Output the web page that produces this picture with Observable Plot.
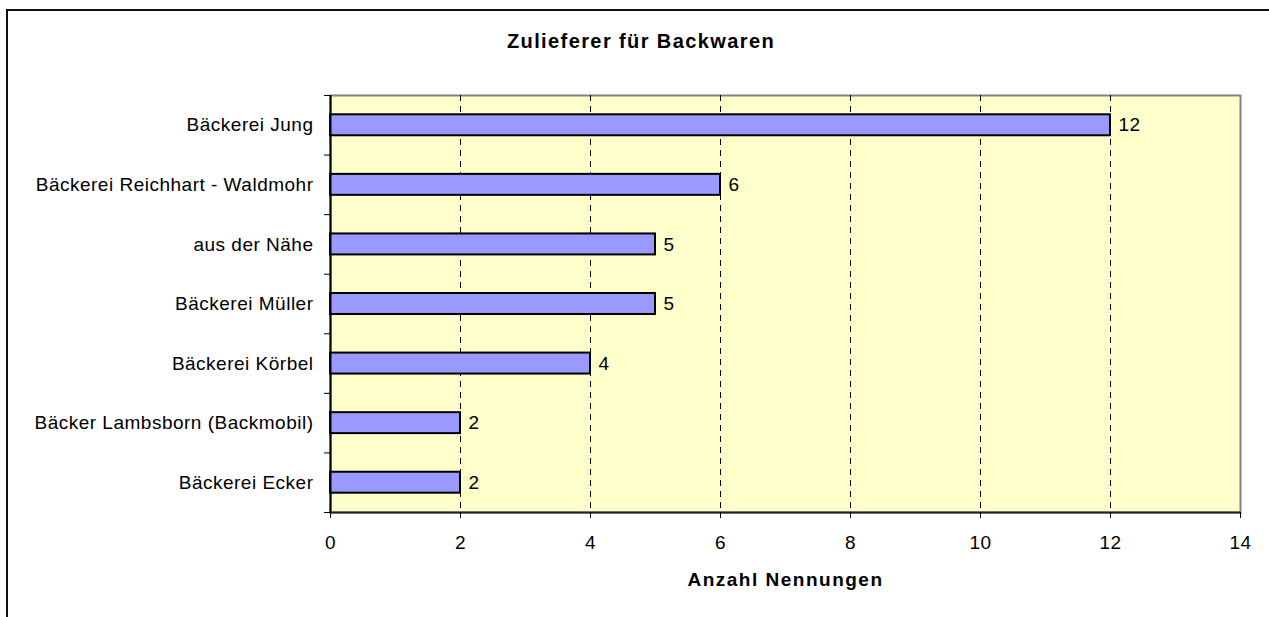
<!DOCTYPE html>
<html><head><meta charset="utf-8">
<script src="https://cdn.jsdelivr.net/npm/d3@7"></script>
<script src="https://cdn.jsdelivr.net/npm/@observablehq/plot@0.6"></script>
<style>
html,body{margin:0;padding:0;background:#fff;overflow:hidden;width:1269px;height:617px;}
#frame{position:absolute;left:6px;top:9px;width:1300px;height:700px;border-left:2px solid #111;border-top:2px solid #111;}
#title{width:1266px;height:60px;font-family:"Liberation Sans",Arial,sans-serif;font-weight:bold;font-size:20px;line-height:60px;text-align:center;letter-spacing:1.4px;color:#000;white-space:nowrap;}
</style></head><body>
<div id="frame"><div id="title"></div><div id="chart"></div></div>
<script>
const titleText = "Zulieferer für Backwaren";
const xLabel = "Anzahl Nennungen";
const categories = [
  "Bäckerei Jung",
  "Bäckerei Reichhart - Waldmohr",
  "aus der Nähe",
  "Bäckerei Müller",
  "Bäckerei Körbel",
  "Bäcker Lambsborn (Backmobil)",
  "Bäckerei Ecker"
];
const values = [12, 6, 5, 5, 4, 2, 2];
const xTicks = [0, 2, 4, 6, 8, 10, 12, 14];
const gridTicks = [2, 4, 6, 8, 10, 12];

document.getElementById("title").textContent = titleText;

const data = categories.map((c, i) => ({category: c, value: values[i], i}));
const n = categories.length;
const font = '"Liberation Sans", Arial, sans-serif';

const chart = Plot.plot({
  width: 1261,
  height: 546,
  marginLeft: 322,
  marginRight: 29,
  marginTop: 24,
  marginBottom: 105,
  style: {fontFamily: font, fontSize: "19px", color: "#000", background: "transparent", letterSpacing: "0.5px"},
  x: {domain: [0, 14], label: null},
  y: {domain: [n, 0], label: null},
  marks: [
    Plot.frame({fill: "#ffffcc", stroke: "#808080", strokeWidth: 2}),
    Plot.ruleX(gridTicks, {stroke: "#000", strokeDasharray: "6,5", strokeWidth: 1}),
    Plot.rectX(data, {
      x1: 0, x2: "value",
      y1: d => d.i, y2: d => d.i + 1,
      insetTop: 19.3, insetBottom: 19.3,
      fill: "#9999ff", stroke: "#000", strokeWidth: 2
    }),
    Plot.text(data, {
      x: "value", y: d => d.i + 0.5, text: d => String(d.value),
      dx: 8, textAnchor: "start", fontSize: 19, fill: "#000"
    }),
    Plot.ruleX([0], {stroke: "#000", strokeWidth: 2}),
    Plot.ruleY([n], {stroke: "#222", strokeWidth: 2}),
    Plot.axisX({ticks: xTicks, tickSize: 6, tickPadding: 17, fontSize: 19, label: null, stroke: "#000", tickFormat: d => String(d)}),
    Plot.axisY({ticks: d3.range(0, n + 1), tickSize: 6, tickFormat: () => "", label: null, stroke: "#000"}),
    Plot.axisY({
      ticks: categories.map((c, i) => i + 0.5), tickSize: 0, tickPadding: 17,
      tickFormat: v => categories[Math.floor(v)], fontSize: 19, label: null
    }),
    Plot.text([xLabel], {frameAnchor: "bottom", dy: 73, fontWeight: "bold", fontSize: 19, fill: "#000", text: d => d})
  ]
});
document.getElementById("chart").appendChild(chart);
d3.select(chart).selectAll("text").filter(function() { return this.textContent === xLabel; })
  .attr("letter-spacing", "1.5px");
</script>
</body></html>
